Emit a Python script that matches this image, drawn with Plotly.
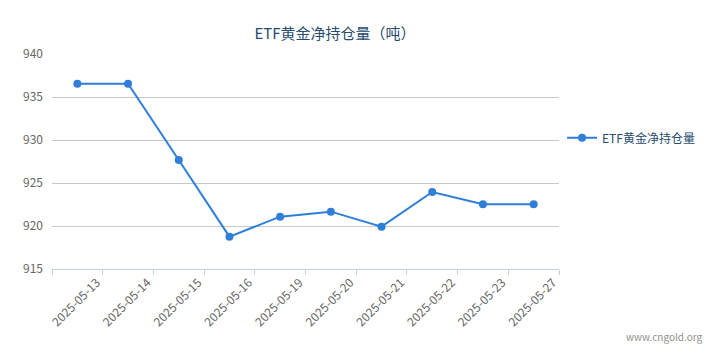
import plotly.graph_objects as go

dates = ["2025-05-13", "2025-05-14", "2025-05-15", "2025-05-16", "2025-05-19",
         "2025-05-20", "2025-05-21", "2025-05-22", "2025-05-23", "2025-05-27"]
holdings = [936.55, 936.55, 927.67, 918.76, 921.09, 921.67, 919.92, 923.95, 922.52, 922.52]
series_name = "ETF黄金净持仓量"
title_text = "ETF黄金净持仓量（吨）"
y_ticks = [915, 920, 925, 930, 935, 940]

n = len(dates)
xpos = [i + 0.5 for i in range(n)]

FONT = "Noto Sans CJK SC, Microsoft YaHei, sans-serif"
BLUE = "#2f7ed8"

fig = go.Figure()
fig.add_trace(go.Scatter(
    x=xpos, y=holdings, name=series_name, mode="lines+markers",
    line=dict(color=BLUE, width=2),
    marker=dict(color=BLUE, size=8),
    text=dates, hovertemplate="%{text}<br>%{y}<extra></extra>",
))

fig.update_layout(
    width=713, height=361,
    margin=dict(l=52, r=154, t=54, b=92, autoexpand=False),
    paper_bgcolor="white", plot_bgcolor="white",
    font=dict(family=FONT, size=12, color="#666666"),
    title=dict(text=title_text, x=335 / 713, xanchor="center", y=1 - 34 / 361, yanchor="middle",
               font=dict(family=FONT, size=15, color="#274b6d")),
    showlegend=True,
    legend=dict(x=1.006, xanchor="left", y=0.61, yanchor="middle",
                font=dict(family=FONT, size=12, color="#274b6d"),
                bgcolor="rgba(0,0,0,0)", itemwidth=30),
    xaxis=dict(
        range=[0, n], showgrid=False, zeroline=False, automargin=False,
        tickmode="array", tickvals=list(range(0, n + 1)), ticktext=[""] + dates,
        tickangle=-45, ticks="outside", ticklen=5, tickcolor="#c0d0e0",
        ticklabelshift=-6, ticklabelstandoff=-4,
        showline=True, linecolor="#c0d0e0", linewidth=1,
        tickfont=dict(family=FONT, size=12, color="#666666"),
        fixedrange=True,
    ),
    yaxis=dict(
        range=[915, 940], tickmode="array", tickvals=y_ticks, automargin=False,
        showgrid=True, gridcolor="#c8c8c8", gridwidth=1, zeroline=False,
        showline=False, ticks="", ticklabelstandoff=8,
        tickfont=dict(family=FONT, size=12, color="#666666"),
        fixedrange=True,
    ),
    annotations=[dict(text="www.cngold.org", xref="paper", yref="paper",
                      x=(705 - 52) / 507, xanchor="right",
                      y=-(336 - 269) / 215, yanchor="middle", showarrow=False,
                      font=dict(family=FONT, size=10, color="#909090"))],
)

fig.write_html("out.html", config={"displayModeBar": False},
               post_script="document.body.style.margin='0';document.body.style.overflow='hidden';")
